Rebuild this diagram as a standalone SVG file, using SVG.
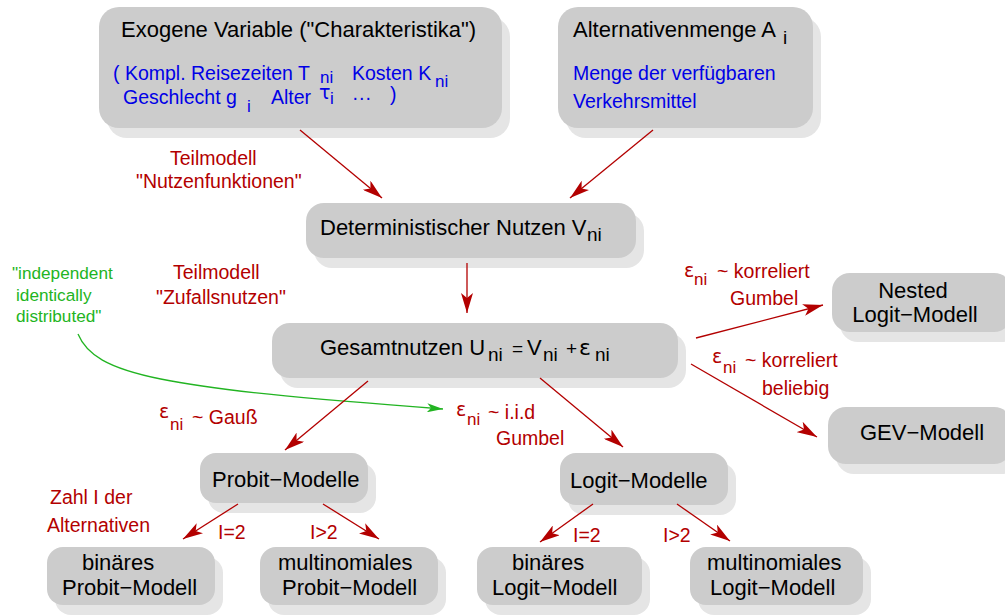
<svg xmlns="http://www.w3.org/2000/svg" width="1005" height="615" viewBox="0 0 1005 615">
  <defs>
    <style>
      .box { fill: #cccccc; }
      .shadow { fill: #e5e5e5; }
      .title { font-family: "Liberation Sans", Arial, sans-serif; font-size: 22px; fill: #000; }
      .sub { font-family: "Liberation Sans", Arial, sans-serif; font-size: 19px; fill: #000; }
      .op { font-family: "Liberation Sans", Arial, sans-serif; font-size: 19px; fill: #000; }
      .eps { font-family: "DejaVu Sans", "Liberation Sans", sans-serif; font-size: 22px; fill: #000; }
      .blue { font-family: "Liberation Sans", Arial, sans-serif; font-size: 19.5px; fill: #0000e6; }
      .bsub { font-family: "Liberation Sans", Arial, sans-serif; font-size: 17px; fill: #0000e6; }
      .tau { font-family: "DejaVu Sans", "Liberation Sans", sans-serif; font-size: 19px; fill: #0000e6; }
      .red { font-family: "Liberation Sans", Arial, sans-serif; font-size: 19.5px; fill: #b30000; }
      .reps { font-family: "DejaVu Sans", "Liberation Sans", sans-serif; font-size: 19px; fill: #b30000; }
      .rsub { font-family: "Liberation Sans", Arial, sans-serif; font-size: 17px; fill: #b30000; }
      .green { font-family: "Liberation Sans", Arial, sans-serif; font-size: 17.2px; fill: #22b422; }
      .mid { text-anchor: middle; }
      .conn { fill: none; stroke: #b30000; stroke-width: 1.3; marker-end: url(#head); }
      .iid { fill: none; stroke: #22b422; stroke-width: 1.3; marker-end: url(#ghead); }
    </style>
    <marker id="head" markerUnits="userSpaceOnUse" viewBox="0 0 20 12" markerWidth="20" markerHeight="12" refX="20" refY="6" orient="auto">
      <path d="M0,0 L20,6 L0,12 L5,6 Z" fill="#b30000"/>
    </marker>
    <marker id="ghead" markerUnits="userSpaceOnUse" viewBox="0 0 16 9" markerWidth="16" markerHeight="9" refX="16" refY="4.5" orient="auto">
      <path d="M0,0 L16,4.5 L0,9 L4,4.5 Z" fill="#22b422"/>
    </marker>
  </defs>

  <rect width="1005" height="615" fill="#ffffff"/>

  <!-- exogenous variables -->
  <g id="exogene">
    <rect class="shadow" x="107" y="17" width="403" height="121" rx="20"/>
    <rect class="box" x="99" y="7" width="403" height="121" rx="20"/>
    <text class="title" x="121" y="37">Exogene Variable ("Charakteristika")</text>
    <text class="blue" x="113" y="80">( Kompl. Reisezeiten T</text>
    <text class="bsub" x="320" y="83">ni</text>
    <text class="blue" x="352" y="80">Kosten K</text>
    <text class="bsub" x="435" y="87">ni</text>
    <text class="blue" x="123" y="104">Geschlecht g</text>
    <text class="bsub" x="247" y="112">i</text>
    <text class="blue" x="271" y="104">Alter</text>
    <text class="tau" x="319" y="99">τ</text>
    <text class="bsub" x="330" y="104">i</text>
    <text class="blue" x="352" y="104">···</text>
    <text class="blue" x="390" y="101">)</text>
  </g>

  <!-- set of alternatives -->
  <g id="alternativen">
    <rect class="shadow" x="566" y="17" width="255" height="121" rx="20"/>
    <rect class="box" x="558" y="7" width="255" height="121" rx="20"/>
    <text class="title" x="573" y="37">Alternativenmenge A</text>
    <text class="sub" x="783" y="44">i</text>
    <text class="blue" x="573" y="80">Menge der verfügbaren</text>
    <text class="blue" x="573" y="108">Verkehrsmittel</text>
  </g>

  <!-- deterministic utility -->
  <g id="deterministisch">
    <rect class="shadow" x="314" y="213" width="330" height="55" rx="18"/>
    <rect class="box" x="306" y="203" width="330" height="55" rx="18"/>
    <text class="title" x="320" y="235">Deterministischer Nutzen V</text>
    <text class="sub" x="587" y="241">ni</text>
  </g>

  <!-- total utility -->
  <g id="gesamtnutzen">
    <rect class="shadow" x="280" y="333" width="406" height="55" rx="18"/>
    <rect class="box" x="272" y="323" width="406" height="55" rx="18"/>
    <text class="title" x="320" y="355">Gesamtnutzen U</text>
    <text class="sub" x="488" y="361">ni</text>
    <text class="op" x="512" y="355">=</text>
    <text class="title" x="527" y="355">V</text>
    <text class="sub" x="543" y="361">ni</text>
    <text class="op" x="566" y="355">+</text>
    <text class="eps" x="579" y="355">ε</text>
    <text class="sub" x="595" y="361">ni</text>
  </g>

  <g id="nested">
    <rect class="shadow" x="840" y="283" width="180" height="59" rx="18"/>
    <rect class="box" x="832" y="273" width="180" height="59" rx="18"/>
    <text class="title mid" x="913" y="298">Nested</text>
    <text class="title mid" x="915" y="322">Logit−Modell</text>
  </g>

  <g id="gev">
    <rect class="shadow" x="836" y="417" width="184" height="57" rx="18"/>
    <rect class="box" x="828" y="407" width="184" height="57" rx="18"/>
    <text class="title" x="860" y="440">GEV−Modell</text>
  </g>

  <g id="probit">
    <rect class="shadow" x="208" y="463" width="168" height="50" rx="16"/>
    <rect class="box" x="200" y="453" width="168" height="50" rx="16"/>
    <text class="title" x="212" y="487">Probit−Modelle</text>
  </g>

  <g id="logit">
    <rect class="shadow" x="568" y="463" width="168" height="52" rx="16"/>
    <rect class="box" x="560" y="453" width="168" height="52" rx="16"/>
    <text class="title" x="570" y="488">Logit−Modelle</text>
  </g>

  <g id="probit-binaer">
    <rect class="shadow" x="55" y="557" width="168" height="58" rx="16"/>
    <rect class="box" x="47" y="547" width="168" height="58" rx="16"/>
    <text class="title" x="82" y="570">binäres</text>
    <text class="title" x="62" y="595">Probit−Modell</text>
  </g>

  <g id="probit-multinomial">
    <rect class="shadow" x="268" y="557" width="178" height="58" rx="16"/>
    <rect class="box" x="260" y="547" width="178" height="58" rx="16"/>
    <text class="title" x="278" y="570">multinomiales</text>
    <text class="title" x="282" y="595">Probit−Modell</text>
  </g>

  <g id="logit-binaer">
    <rect class="shadow" x="485" y="557" width="165" height="58" rx="16"/>
    <rect class="box" x="477" y="547" width="165" height="58" rx="16"/>
    <text class="title" x="512" y="570">binäres</text>
    <text class="title" x="492" y="595">Logit−Modell</text>
  </g>

  <g id="logit-multinomial">
    <rect class="shadow" x="698" y="557" width="173" height="58" rx="16"/>
    <rect class="box" x="690" y="547" width="173" height="58" rx="16"/>
    <text class="title" x="707" y="570">multinomiales</text>
    <text class="title" x="710" y="595">Logit−Modell</text>
  </g>

  <!-- connectors -->
  <g id="connectors">
    <path class="iid" d="M78,334 C95,375 160,388 443,409"/>
    <line class="conn" x1="300" y1="130" x2="382" y2="198"/>
    <line class="conn" x1="653" y1="130" x2="570" y2="198"/>
    <line class="conn" x1="467" y1="263" x2="467" y2="313"/>
    <line class="conn" x1="696" y1="338" x2="823" y2="305"/>
    <line class="conn" x1="691" y1="364" x2="817" y2="437"/>
    <line class="conn" x1="368" y1="381" x2="285" y2="450"/>
    <line class="conn" x1="540" y1="378" x2="623" y2="447"/>
    <line class="conn" x1="238" y1="504" x2="183" y2="539"/>
    <line class="conn" x1="323" y1="504" x2="379" y2="539"/>
    <line class="conn" x1="593" y1="504" x2="540" y2="542"/>
    <line class="conn" x1="677" y1="504" x2="730" y2="541"/>
  </g>

  <!-- labels -->
  <g id="labels">
    <text class="red" x="170" y="165">Teilmodell</text>
    <text class="red" x="136" y="188">"Nutzenfunktionen"</text>
    <text class="red" x="173" y="279">Teilmodell</text>
    <text class="red" x="156" y="304">"Zufallsnutzen"</text>

    <text class="green" x="12" y="279">"independent</text>
    <text class="green" x="16" y="301">identically</text>
    <text class="green" x="16" y="322">distributed"</text>

    <text class="reps" x="159" y="418">ε</text>
    <text class="rsub" x="170" y="430">ni</text>
    <text class="red" x="192" y="424">~ Gauß</text>

    <text class="reps" x="456" y="416">ε</text>
    <text class="rsub" x="467" y="425">ni</text>
    <text class="red" x="488" y="419">~ i.i.d</text>
    <text class="red" x="496" y="445">Gumbel</text>

    <text class="reps" x="684" y="277">ε</text>
    <text class="rsub" x="694" y="285">ni</text>
    <text class="red" x="717" y="278">~ korreliert</text>
    <text class="red" x="730" y="305">Gumbel</text>

    <text class="reps" x="712" y="363">ε</text>
    <text class="rsub" x="723" y="373">ni</text>
    <text class="red" x="745" y="367">~ korreliert</text>
    <text class="red" x="762" y="395">beliebig</text>

    <text class="red" x="50" y="504">Zahl I der</text>
    <text class="red" x="47" y="532">Alternativen</text>

    <text class="red" x="218" y="539">I=2</text>
    <text class="red" x="310" y="539">I&gt;2</text>
    <text class="red" x="573" y="542">I=2</text>
    <text class="red" x="663" y="542">I&gt;2</text>
  </g>
</svg>
